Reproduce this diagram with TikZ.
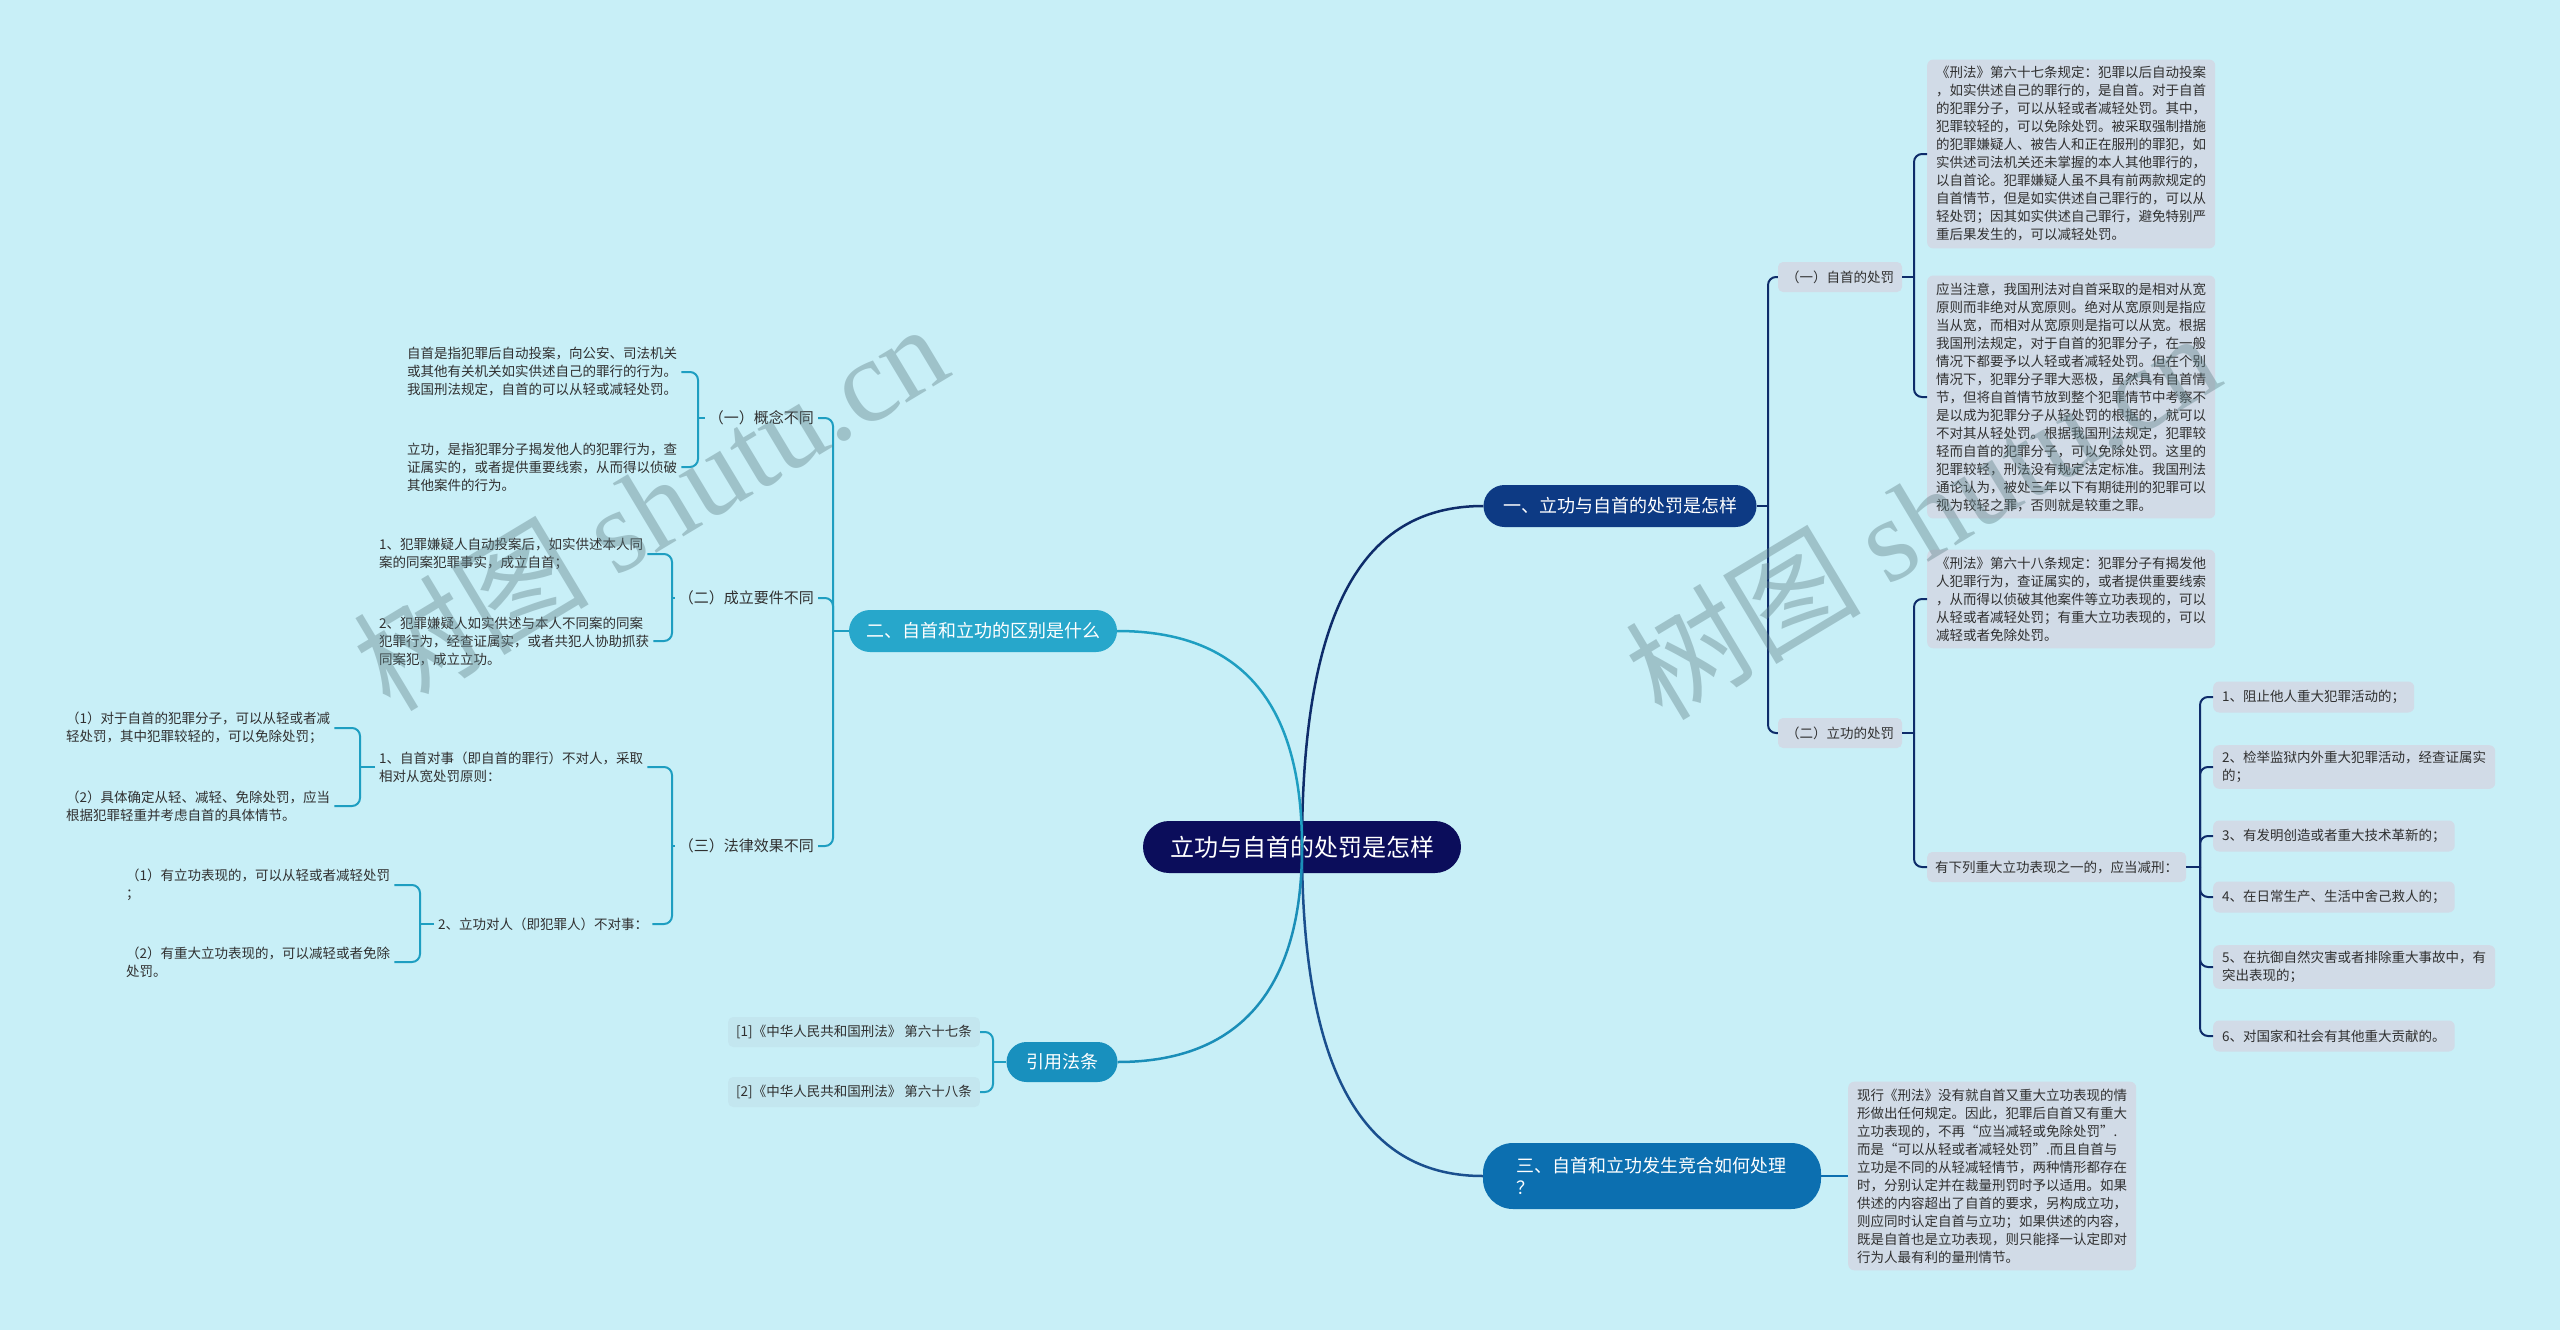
\documentclass[tikz,border=0pt]{standalone}
\usepackage{fontspec}
\setmainfont{Noto Sans CJK SC}
\newfontfamily\wmlatin{Liberation Serif}
\usetikzlibrary{calc}
\definecolor{bgc}{HTML}{C8EFF7}
\definecolor{rootc}{HTML}{0B0D5B}
\definecolor{Ac}{HTML}{0D3A84}
\definecolor{Cc}{HTML}{0C6FB0}
\definecolor{Bc}{HTML}{27A7CB}
\definecolor{Rc}{HTML}{1890BE}
\definecolor{leafc}{HTML}{D1DBE7}
\definecolor{citec}{HTML}{C3E6EF}
\definecolor{txt}{HTML}{303030}
\definecolor{lineA}{HTML}{0E2C6A}
\definecolor{lineB}{HTML}{1E9EC1}
\definecolor{lineC}{HTML}{1A4F8E}
\definecolor{lineR}{HTML}{1A8EB8}
\definecolor{wmc}{HTML}{5F7F86}
\tikzset{
  rootn/.style={fill=rootc, text=white, font=\fontsize{24}{28}\selectfont, minimum width=318pt, minimum height=52pt, rounded corners=26pt, inner sep=0pt},
  lvl1/.style={text=white, font=\fontsize{18}{22}\selectfont, minimum height=42pt, rounded corners=21pt, inner sep=0pt},
  subn/.style={fill=leafc, text=txt, font=\fontsize{13.5}{18}\selectfont, rounded corners=5pt, inner xsep=8pt, inner ysep=0pt, minimum height=30pt},
  blk/.style={fill=leafc, text=txt, font=\fontsize{13.5}{18}\selectfont, rounded corners=6pt, inner xsep=9pt, inner ysep=7pt, align=left},
  itemn/.style={fill=leafc, text=txt, font=\fontsize{13.5}{18}\selectfont, rounded corners=6pt, inner xsep=9pt, inner ysep=6pt, minimum height=31pt, align=left},
  plainn/.style={text=txt, font=\fontsize{13.5}{18}\selectfont, inner sep=4pt, align=left},
  plainl/.style={text=txt, font=\fontsize{15}{19}\selectfont, inner sep=4pt, align=left},
  citen/.style={fill=citec, text=txt, font=\fontsize{13.5}{18}\selectfont, rounded corners=5pt, inner xsep=8pt, inner ysep=0pt, minimum height=30pt},
  rl/.style={draw=lineA, line width=2pt, rounded corners=8pt},
  ll/.style={draw=lineB, line width=2pt, rounded corners=8pt},
  wm/.style={text=wmc, opacity=0.4, font=\fontsize{118}{120}\selectfont, inner sep=0pt}
}
\begin{document}
\begin{tikzpicture}[x=1pt,y=-1pt]
\fill[bgc] (0,0) rectangle (2560,1330);
\useasboundingbox (0,0) rectangle (2560,1330);

% ---------- nodes ----------
\node[rootn] (root) at (1302,847) {立功与自首的处罚是怎样};

\node[lvl1, fill=Ac, minimum width=273pt] (A) at (1620,506) {一、立功与自首的处罚是怎样};
\node[lvl1, fill=Cc, minimum width=338pt, minimum height=66pt, rounded corners=30pt, text width=272pt, align=left] (C) at (1652,1176) {三、自首和立功发生竞合如何处理\\？};
\node[lvl1, fill=Bc, minimum width=268pt] (B) at (983,631) {二、自首和立功的区别是什么};
\node[lvl1, fill=Rc, minimum width=111pt, minimum height=40pt, rounded corners=20pt] (R) at (1062,1062) {引用法条};

% right branch
\node[subn] (A1) at (1840,277) {（一）自首的处罚};
\node[subn] (A2) at (1840,733) {（二）立功的处罚};
\node[blk, anchor=west] (A1a) at (1927,154) {《刑法》第六十七条规定：犯罪以后自动投案\\，如实供述自己的罪行的，是自首。对于自首\\的犯罪分子，可以从轻或者减轻处罚。其中，\\犯罪较轻的，可以免除处罚。被采取强制措施\\的犯罪嫌疑人、被告人和正在服刑的罪犯，如\\实供述司法机关还未掌握的本人其他罪行的，\\以自首论。犯罪嫌疑人虽不具有前两款规定的\\自首情节，但是如实供述自己罪行的，可以从\\轻处罚；因其如实供述自己罪行，避免特别严\\重后果发生的，可以减轻处罚。};
\node[blk, anchor=west] (A1b) at (1927,397) {应当注意，我国刑法对自首采取的是相对从宽\\原则而非绝对从宽原则。绝对从宽原则是指应\\当从宽，而相对从宽原则是指可以从宽。根据\\我国刑法规定，对于自首的犯罪分子，在一般\\情况下都要予以人轻或者减轻处罚。但在个别\\情况下，犯罪分子罪大恶极，虽然具有自首情\\节，但将自首情节放到整个犯罪情节中考察不\\是以成为犯罪分子从轻处罚的根据的，就可以\\不对其从轻处罚。根据我国刑法规定，犯罪较\\轻而自首的犯罪分子，可以免除处罚。这里的\\犯罪较轻，刑法没有规定法定标准。我国刑法\\通论认为，被处三年以下有期徒刑的犯罪可以\\视为较轻之罪，否则就是较重之罪。};
\node[blk, anchor=west] (A2a) at (1927,599) {《刑法》第六十八条规定：犯罪分子有揭发他\\人犯罪行为，查证属实的，或者提供重要线索\\，从而得以侦破其他案件等立功表现的，可以\\从轻或者减轻处罚；有重大立功表现的，可以\\减轻或者免除处罚。};
\node[subn, anchor=west] (A2b) at (1927,867) {有下列重大立功表现之一的，应当减刑：};
\node[itemn, anchor=west] (I1) at (2213,697) {1、阻止他人重大犯罪活动的；};
\node[itemn, anchor=west] (I2) at (2213,767) {2、检举监狱内外重大犯罪活动，经查证属实\\的；};
\node[itemn, anchor=west] (I3) at (2213,836) {3、有发明创造或者重大技术革新的；};
\node[itemn, anchor=west] (I4) at (2213,897) {4、在日常生产、生活中舍己救人的；};
\node[itemn, anchor=west] (I5) at (2213,967) {5、在抗御自然灾害或者排除重大事故中，有\\突出表现的；};
\node[itemn, anchor=west] (I6) at (2213,1036) {6、对国家和社会有其他重大贡献的。};
\node[blk, anchor=west] (C1) at (1848,1176) {现行《刑法》没有就自首又重大立功表现的情\\形做出任何规定。因此，犯罪后自首又有重大\\立功表现的，不再“应当减轻或免除处罚”.\\而是“可以从轻或者减轻处罚”.而且自首与\\立功是不同的从轻减轻情节，两种情形都存在\\时，分别认定并在裁量刑罚时予以适用。如果\\供述的内容超出了自首的要求，另构成立功，\\则应同时认定自首与立功；如果供述的内容，\\既是自首也是立功表现，则只能择一认定即对\\行为人最有利的量刑情节。};

% left branch
\node[plainl, anchor=east] (B1) at (818,418) {（一）概念不同};
\node[plainl, anchor=east] (B2) at (818,598) {（二）成立要件不同};
\node[plainl, anchor=east] (B3) at (818,846) {（三）法律效果不同};
\node[plainn, anchor=west] (B1a) at (403,372) {自首是指犯罪后自动投案，向公安、司法机关\\或其他有关机关如实供述自己的罪行的行为。\\我国刑法规定，自首的可以从轻或减轻处罚。};
\node[plainn, anchor=west] (B1b) at (403,467) {立功，是指犯罪分子揭发他人的犯罪行为，查\\证属实的，或者提供重要线索，从而得以侦破\\其他案件的行为。};
\node[plainn, anchor=west] (B2a) at (375,554) {1、犯罪嫌疑人自动投案后，如实供述本人同\\案的同案犯罪事实，成立自首；};
\node[plainn, anchor=west] (B2b) at (375,641) {2、犯罪嫌疑人如实供述与本人不同案的同案\\犯罪行为，经查证属实，或者共犯人协助抓获\\同案犯，成立立功。};
\node[plainn, anchor=west] (B3a) at (375,767) {1、自首对事（即自首的罪行）不对人，采取\\相对从宽处罚原则：};
\node[plainn, anchor=west] (B3b) at (434,924) {2、立功对人（即犯罪人）不对事：};
\node[plainn, anchor=west] (B3a1) at (62,728) {（1）对于自首的犯罪分子，可以从轻或者减\\轻处罚，其中犯罪较轻的，可以免除处罚；};
\node[plainn, anchor=west] (B3a2) at (62,806) {（2）具体确定从轻、减轻、免除处罚，应当\\根据犯罪轻重并考虑自首的具体情节。};
\node[plainn, anchor=west] (B3b1) at (122,885) {（1）有立功表现的，可以从轻或者减轻处罚\\；};
\node[plainn, anchor=west] (B3b2) at (122,962) {（2）有重大立功表现的，可以减轻或者免除\\处罚。};
\node[citen, anchor=east] (R1) at (980,1032) {[1]《中华人民共和国刑法》 第六十七条};
\node[citen, anchor=east] (R2) at (980,1092) {[2]《中华人民共和国刑法》 第六十八条};

% ---------- junctions ----------
\coordinate (jA) at (1768,506);
\coordinate (jA1) at (1914,277);
\coordinate (jA2) at (1914,733);
\coordinate (jI) at (2200,867);
\coordinate (jB) at (833,631);
\coordinate (jB1) at (698,418);
\coordinate (jB2) at (672,598);
\coordinate (jB3) at (672,846);
\coordinate (jB3a) at (360,767);
\coordinate (jB3b) at (420,924);
\coordinate (jR) at (993,1062);

% ---------- connectors ----------
\draw[draw=lineA, line width=2.5pt] (root.center) .. controls (1302,580) and (1380,506) .. (A.west);
\draw[draw=lineC, line width=2.5pt] (root.center) .. controls (1302,1100) and (1380,1176) .. (C.west);
\draw[draw=lineB, line width=2.5pt] (root.center) .. controls (1302,690) and (1230,631) .. (B.east);
\draw[draw=lineR, line width=2.5pt] (root.center) .. controls (1302,1000) and (1230,1062) .. (R.east);

\draw[rl] (A.east) -- (jA);
\draw[rl] (jA) |- (A1.west);
\draw[rl] (jA) |- (A2.west);
\draw[rl] (A1.east) -- (jA1);
\draw[rl] (jA1) |- (A1a.west);
\draw[rl] (jA1) |- (A1b.west);
\draw[rl] (A2.east) -- (jA2);
\draw[rl] (jA2) |- (A2a.west);
\draw[rl] (jA2) |- (A2b.west);
\draw[rl] (A2b.east) -- (jI);
\foreach \i in {I1,I2,I3,I4,I5,I6} \draw[rl] (jI) |- (\i.west);
\draw[draw=Cc, line width=2pt] (C.east) -- (C1.west);

\draw[ll] (B.west) -- (jB);
\foreach \i in {B1,B2,B3} \draw[ll] (jB) |- (\i.east);
\draw[ll] (B1.west) -- (jB1);
\foreach \i in {B1a,B1b} \draw[ll] (jB1) |- (\i.east);
\draw[ll] (B2.west) -- (jB2);
\foreach \i in {B2a,B2b} \draw[ll] (jB2) |- (\i.east);
\draw[ll] (B3.west) -- (jB3);
\foreach \i in {B3a,B3b} \draw[ll] (jB3) |- (\i.east);
\draw[ll] (B3a.west) -- (jB3a);
\foreach \i in {B3a1,B3a2} \draw[ll] (jB3a) |- (\i.east);
\draw[ll] (B3b.west) -- (jB3b);
\foreach \i in {B3b1,B3b2} \draw[ll] (jB3b) |- (\i.east);
\draw[ll] (R.west) -- (jR);
\foreach \i in {R1,R2} \draw[ll] (jR) |- (\i.east);

% ---------- watermarks ----------
\node[wm, rotate=31] (wm1) at (650,505) {树图 {\wmlatin shutu.cn}};
\node[wm, rotate=31] (wm2) at (1922,514) {树图 {\wmlatin shutu.cn}};
\end{tikzpicture}
\end{document}
